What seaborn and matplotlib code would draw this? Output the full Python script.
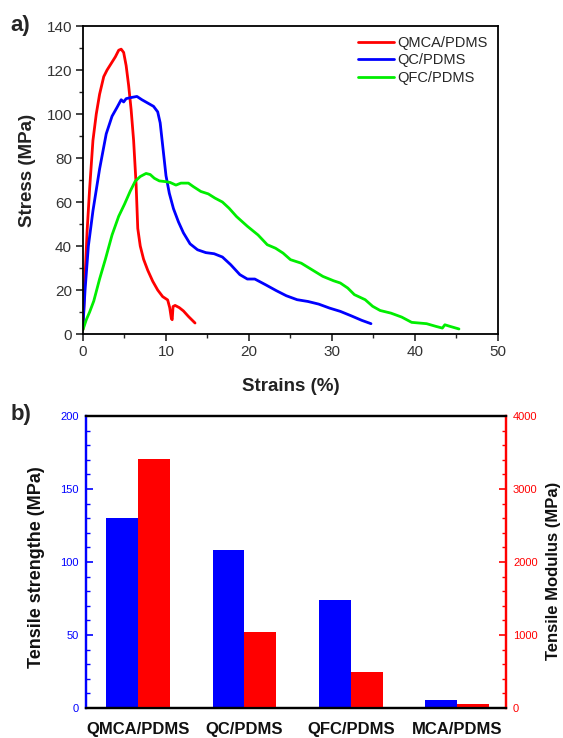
import numpy as np
import pandas as pd
import matplotlib
matplotlib.use("Agg")
import matplotlib.pyplot as plt
import seaborn as sns
from matplotlib.ticker import MultipleLocator

# -------------------------------
# Data: stress-strain curves (a)
# -------------------------------
qmca_strain = [0, 0.2, 0.5, 0.8, 1.2, 1.6, 2.0, 2.5, 2.9, 3.4, 3.9, 4.3, 4.6, 4.9,
               5.2, 5.5, 5.8, 6.1, 6.4, 6.6, 6.9, 7.3, 7.8, 8.4, 9.0, 9.6, 10.2,
               10.45, 10.65, 10.75, 10.85, 11.1, 11.6, 12.1, 12.7, 13.5]
qmca_stress = [2, 22, 47, 66, 88, 100, 109, 117, 120, 123, 126, 129, 129.5, 128,
               122, 113, 102, 88, 68, 48, 40, 34, 29, 24, 20, 17, 15.5,
               12, 7, 6.5, 12.5, 13, 12, 10.5, 8, 5]

qc_strain = [0, 0.25, 0.65, 1.2, 2.0, 2.8, 3.5, 4.1, 4.6, 4.9, 5.2, 5.8, 6.5, 7.1,
             7.8, 8.5, 9.0, 9.3, 9.65, 10.0, 10.4, 10.9, 11.5, 12.1, 12.9, 13.8,
             14.8, 15.8, 16.8, 17.8, 18.9, 19.8, 20.7, 22.0, 23.3, 24.5, 25.8,
             27.1, 28.4, 29.7, 31.0, 32.3, 33.6, 34.7]
qc_stress = [4, 20, 40, 56, 75, 91, 99, 103, 106.5, 105.5, 107, 107.5, 108, 106.5,
             105, 103.5, 101, 96, 84, 72, 64, 57, 51, 46, 41, 38.3,
             37, 36.5, 35, 31.5, 27, 25, 25, 22.4, 19.7, 17.4, 15.6,
             14.8, 13.6, 11.8, 10.3, 8.3, 6.2, 4.7]

qfc_strain = [0, 0.4, 0.8, 1.3, 2.0, 2.7, 3.5, 4.3, 5.0, 5.7, 6.3, 6.9, 7.6, 8.1,
              8.6, 9.2, 9.9, 10.5, 11.2, 11.8, 12.7, 13.3, 14.2, 15.1, 15.9, 16.8,
              17.6, 18.5, 19.8, 21.1, 22.2, 23.2, 24.1, 25.0, 26.3, 27.6, 28.9,
              30.2, 31.0, 31.9, 32.7, 34.0, 34.9, 35.8, 37.1, 38.4, 39.6, 41.4,
              42.5, 43.3, 43.6, 44.2, 45.3]
qfc_stress = [2, 6.5, 10, 15, 25, 34, 45, 53.5, 59, 65, 69.5, 71.6, 73, 72.5,
              70.8, 69.6, 69.3, 68.9, 67.7, 68.6, 68.6, 67, 64.8, 63.7, 61.8, 60,
              57.2, 53.4, 49, 45, 40.6, 39, 36.8, 33.8, 32.2, 29.2, 26.2,
              24.2, 23.2, 20.9, 17.9, 15.6, 12.6, 10.7, 9.5, 7.7, 5.3, 4.7,
              3.5, 2.7, 4.2, 3.5, 2.3]

curve_names = ["QMCA/PDMS", "QC/PDMS", "QFC/PDMS"]
curve_colors = ["#ff0000", "#0000ff", "#00ee00"]

# -------------------------------
# Data: tensile properties (b)
# -------------------------------
samples = ["QMCA/PDMS", "QC/PDMS", "QFC/PDMS", "MCA/PDMS"]
strength = [130, 108.5, 74, 5.5]
modulus = [3415, 1040, 490, 60]

# -------------------------------
# Style
# -------------------------------
sns.set_style("ticks")
plt.rcParams["font.family"] = ["Liberation Sans", "DejaVu Sans"]

fig = plt.figure(figsize=(5.63, 7.38), dpi=100)

# -------------------------------
# Panel a: stress-strain
# -------------------------------
ax1 = fig.add_axes([0.1474, 0.5474, 0.7371, 0.4173])
curves = [(qmca_strain, qmca_stress), (qc_strain, qc_stress), (qfc_strain, qfc_stress)]
for (sx, sy), name, col in zip(curves, curve_names, curve_colors):
    sns.lineplot(x=sx, y=sy, ax=ax1, color=col, linewidth=2, label=name,
                 sort=False, estimator=None)

ax1.set_xlim(0, 50)
ax1.set_ylim(0, 140)
ax1.xaxis.set_major_locator(MultipleLocator(10))
ax1.xaxis.set_minor_locator(MultipleLocator(5))
ax1.yaxis.set_major_locator(MultipleLocator(20))
ax1.yaxis.set_minor_locator(MultipleLocator(10))
ax1.tick_params(which="major", direction="out", length=5, width=1.2,
                labelsize=11, labelcolor="#333333", pad=3)
ax1.tick_params(which="minor", direction="out", length=3, width=1.0)
for sp in ax1.spines.values():
    sp.set_linewidth(1.3)
    sp.set_color("black")

ax1.set_xlabel("Strains (%)", fontsize=13.5, fontweight="bold", color="#222222")
ax1.set_ylabel("Stress (MPa)", fontsize=13.5, fontweight="bold", color="#222222")
ax1.xaxis.set_label_coords(0.5, -0.143)
ax1.yaxis.set_label_coords(-0.113, 0.53)

ax1.legend(loc="upper right", bbox_to_anchor=(1.0, 1.0), frameon=False,
           fontsize=10.5, handlelength=2.5, handletextpad=0.2,
           labelspacing=0.22, borderaxespad=0.3)

fig.text(0.018, 0.966, "a)", fontsize=16, fontweight="bold", va="center")

# -------------------------------
# Panel b: bar chart, twin axes
# -------------------------------
ax2 = fig.add_axes([0.1528, 0.0407, 0.746, 0.3957])
ax3 = ax2.twinx()

palette = {"strength": "#0000ff", "modulus": "#ff0000"}
df_s = pd.DataFrame({"sample": samples, "value": strength, "metric": "strength"})
df_m = pd.DataFrame({"sample": samples, "value": modulus, "metric": "modulus"})

sns.barplot(data=df_s, x="sample", y="value", hue="metric",
            hue_order=["strength", "modulus"], palette=palette, width=0.6,
            dodge=True, saturation=1, legend=False, linewidth=0, ax=ax2)
sns.barplot(data=df_m, x="sample", y="value", hue="metric",
            hue_order=["strength", "modulus"], palette=palette, width=0.6,
            dodge=True, saturation=1, legend=False, linewidth=0, ax=ax3)

ax2.set_xlim(-0.49, 3.46)
ax2.set_ylim(0, 200)
ax3.set_ylim(0, 4000)

ax2.yaxis.set_major_locator(MultipleLocator(50))
ax2.yaxis.set_minor_locator(MultipleLocator(10))
ax3.yaxis.set_major_locator(MultipleLocator(1000))
ax3.yaxis.set_minor_locator(MultipleLocator(200))

ax2.tick_params(axis="y", which="major", direction="in", length=5, width=1.2,
                colors="#0000ff", labelsize=8, pad=5)
ax2.tick_params(axis="y", which="minor", direction="in", length=3, width=1.0,
                colors="#0000ff")
ax3.tick_params(axis="y", which="major", direction="in", length=5, width=1.2,
                colors="#ff0000", labelsize=8, pad=5)
ax3.tick_params(axis="y", which="minor", direction="in", length=3, width=1.0,
                colors="#ff0000")
ax2.tick_params(axis="x", length=0, labelsize=12, pad=10)
for lab in ax2.get_xticklabels():
    lab.set_fontweight("bold")
    lab.set_color("#111111")

for a in (ax2, ax3):
    a.spines["left"].set_color("#0000ff")
    a.spines["right"].set_color("#ff0000")
    a.spines["top"].set_color("black")
    a.spines["bottom"].set_color("black")
    for sp in a.spines.values():
        sp.set_linewidth(1.6)
        sp.set_visible(True)

ax2.set_xlabel("")
ax3.set_xlabel("")
ax2.set_ylabel("Tensile strengthe (MPa)", fontsize=13, fontweight="bold",
               color="#111111")
ax3.set_ylabel("Tensile Modulus (MPa)", fontsize=12, fontweight="bold",
               color="#111111", rotation=90)
ax2.yaxis.set_label_coords(-0.098, 0.483)
ax3.yaxis.set_label_coords(1.095, 0.469)

fig.text(0.018, 0.438, "b)", fontsize=16, fontweight="bold", va="center")

fig.savefig("out.png", dpi=100)
